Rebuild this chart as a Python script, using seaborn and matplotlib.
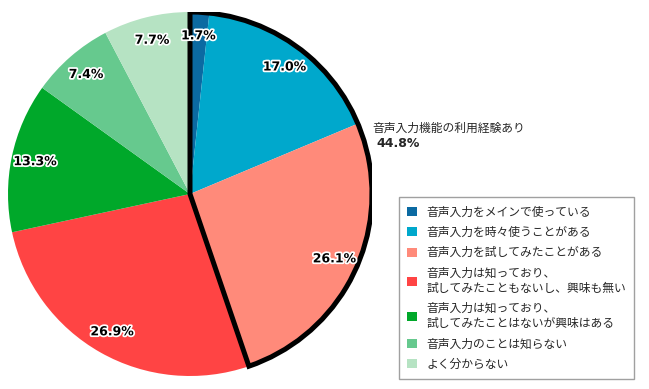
import matplotlib
matplotlib.use("Agg")
import matplotlib.pyplot as plt
import matplotlib.patheffects as pe
from matplotlib.patches import Wedge
import seaborn as sns

# data
labels = [
    "音声入力をメインで使っている",
    "音声入力を時々使うことがある",
    "音声入力を試してみたことがある",
    "音声入力は知っており、\n試してみたこともないし、興味も無い",
    "音声入力は知っており、\n試してみたことはないが興味はある",
    "音声入力のことは知らない",
    "よく分からない",
]
values = [1.7, 17.0, 26.1, 26.9, 13.3, 7.4, 7.7]
colors = ["#0b6aa2", "#00a8cc", "#ff8a7a", "#ff4444", "#00a82a", "#66c98e", "#b6e3c3"]
group_size = 3  # first three slices = experienced users
group_label = "音声入力機能の利用経験あり"

sns.set_style("white")
plt.rcParams["font.family"] = ["Noto Sans CJK JP", "DejaVu Sans"]

fig = plt.figure(figsize=(6.49, 3.89), dpi=100)
ax = fig.add_axes([8 / 649, 13 / 389, 364 / 649, 364 / 389])

wedges, texts, autotexts = ax.pie(
    values, colors=colors, startangle=90, counterclock=False,
    autopct="%.1f%%", pctdistance=0.87, radius=1,
    wedgeprops=dict(linewidth=0),
    textprops=dict(family="DejaVu Sans", fontweight="bold", fontsize=9, color="black"),
)
for t in autotexts:
    t.set_path_effects([pe.withStroke(linewidth=2.5, foreground="white")])

# thick outline around the group
group_total = sum(values[:group_size])
theta1 = 90 - group_total / sum(values) * 360
ax.add_patch(Wedge((0, 0), 1, theta1, 90, fill=False, ec="black", lw=3.6, joinstyle="miter"))

ax.text(1.0, 0.363, group_label, fontsize=8.5, va="center", ha="left")
ax.text(1.027, 0.275, f"{group_total:.1f}%", fontsize=9, va="center", ha="left",
        family="DejaVu Sans", fontweight="bold")

ax.set_xlim(-1, 1)
ax.set_ylim(-1, 1)
ax.set_aspect("equal")
ax.axis("off")

leg = fig.legend(wedges, labels, loc="upper left", bbox_to_anchor=(399 / 649, 1 - 197 / 389),
                 borderaxespad=0, fontsize=8.5, frameon=True, fancybox=False,
                 handlelength=0.8, handleheight=0.8, handletextpad=0.8,
                 labelspacing=0.63, borderpad=0.7)
leg.get_frame().set_edgecolor("#888888")
leg.get_frame().set_linewidth(1)

fig.savefig("out.png", dpi=100)
